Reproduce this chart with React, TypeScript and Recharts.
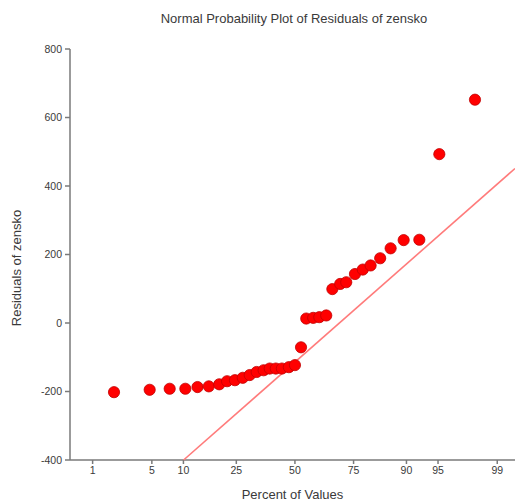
import { ScatterChart, Scatter, XAxis, YAxis, Label } from 'recharts'

// probit (normal score) positions of the residuals
const zScores = [
  -2.08, -1.67, -1.44, -1.26, -1.12, -0.99, -0.87, -0.78, -0.69, -0.6, -0.52, -0.44,
  -0.36, -0.29, -0.22, -0.15, -0.07, 0, 0.07, 0.13, 0.21, 0.28, 0.36, 0.43, 0.52,
  0.59, 0.69, 0.78, 0.87, 0.98, 1.1, 1.25, 1.43, 1.66, 2.07,
]
const residuals = [
  -202, -195, -192, -192, -187, -185, -179, -170, -167, -160, -152, -143,
  -138, -133, -133, -133, -129, -123, -71, 13, 15, 17, 22, 99, 114,
  119, 143, 156, 168, 189, 218, 242, 243, 493, 652,
]

// reference line end points
const fitZ = [-1.28, 2.53]
const fitY = [-400, 451]

const percentLabels = ['1', '5', '10', '25', '50', '75', '90', '95', '99']
const percentZ = [-2.326, -1.645, -1.282, -0.674, 0, 0.674, 1.282, 1.645, 2.326]
const yTicks = [-400, -200, 0, 200, 400, 600, 800]

const points = zScores.map((z, i) => ({ z, r: residuals[i] }))
const fitLine = fitZ.map((z, i) => ({ z, r: fitY[i] }))

const font = '"Liberation Sans", Arial, sans-serif'
const axisColor = '#7a7a7a'
const textColor = '#3a3a3a'

const Dot = (props: any) => (
  <circle cx={props.cx} cy={props.cy} r={5.6} fill="#ff0000" stroke="#c00000" strokeWidth={0.8} />
)

export default function App() {
  return (
    <div style={{ position: 'absolute', left: 0, top: 0, width: 515, height: 501, background: '#fff', fontFamily: font }}>
      <div
        style={{
          position: 'absolute',
          top: 11,
          left: 0,
          width: 588,
          textAlign: 'center',
          fontSize: 13,
          color: textColor,
        }}
      >
        Normal Probability Plot of Residuals of zensko
      </div>
      <ScatterChart width={515} height={501} margin={{ top: 49, right: 0, bottom: 0, left: 0 }}>
        <XAxis
          type="number"
          dataKey="z"
          domain={[-2.586, 2.53]}
          allowDataOverflow
          ticks={percentZ}
          tickFormatter={(v: number) => percentLabels[percentZ.indexOf(v)] ?? ''}
          height={41}
          stroke={axisColor}
          strokeWidth={1.5}
          tickSize={4}
          tickMargin={3}
          tick={{ fontSize: 10.5, fill: textColor, fontFamily: font }}
        >
          <Label value="Percent of Values" position="insideBottom" offset={2} style={{ fontSize: 13, fill: textColor, fontFamily: font }} />
        </XAxis>
        <YAxis
          type="number"
          dataKey="r"
          domain={[-400, 800]}
          ticks={yTicks}
          width={70}
          stroke={axisColor}
          strokeWidth={1.5}
          tickSize={5}
          tickMargin={3}
          tick={{ fontSize: 10.5, fill: textColor, fontFamily: font }}
        >
          <Label
            content={() => (
              <text
                x={21}
                y={268}
                transform="rotate(-90 21 268)"
                textAnchor="middle"
                fontSize={13}
                fill={textColor}
                fontFamily={font}
              >
                Residuals of zensko
              </text>
            )}
          />
        </YAxis>
        <Scatter
          data={fitLine}
          line={{ stroke: '#ff7b7b', strokeWidth: 1.6 }}
          shape={() => <g />}
          isAnimationActive={false}
        />
        <Scatter data={points} shape={Dot} isAnimationActive={false} />
      </ScatterChart>
    </div>
  )
}
